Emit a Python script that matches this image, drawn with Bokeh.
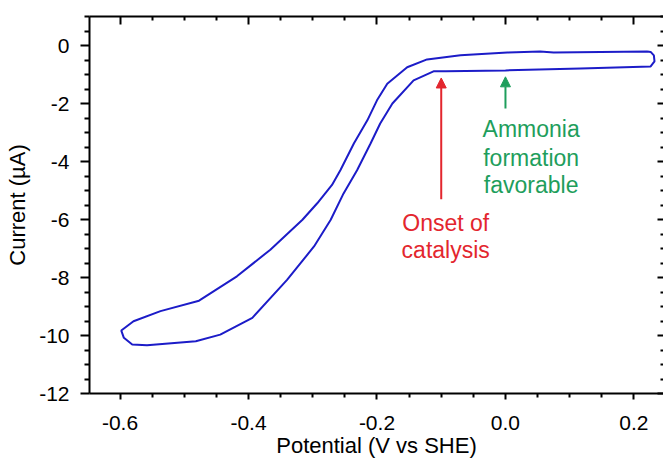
from bokeh.plotting import figure
from bokeh.models import (Range1d, FixedTicker, LinearAxis, PrintfTickFormatter,
                          CustomJSTickFormatter, Arrow, NormalHead, ColumnDataSource)
from bokeh.core.properties import value
from bokeh.embed import file_html
from bokeh.resources import INLINE

# Cyclic voltammogram (closed loop), potential V vs SHE, current in uA
potential = [0.221, 0.148, 0.075, 0.054, 0.003, -0.070, -0.122, -0.153, -0.184,
             -0.200, -0.215, -0.236, -0.257, -0.270, -0.293, -0.316, -0.366,
             -0.418, -0.477, -0.537, -0.579, -0.598, -0.594, -0.581, -0.558,
             -0.482, -0.444, -0.394, -0.340, -0.298, -0.272, -0.252, -0.231,
             -0.210, -0.195, -0.176, -0.143, -0.112, -0.093, 0.000, 0.117,
             0.226, 0.232, 0.231, 0.226, 0.221]
current = [-0.21, -0.22, -0.24, -0.21, -0.24, -0.34, -0.48, -0.75, -1.32,
           -1.89, -2.58, -3.38, -4.30, -4.81, -5.44, -6.01, -7.04,
           -7.96, -8.80, -9.16, -9.51, -9.83, -10.08, -10.31, -10.34,
           -10.20, -9.97, -9.39, -8.08, -6.93, -6.01, -5.10, -4.30,
           -3.38, -2.69, -2.00, -1.20, -0.89, -0.89, -0.86, -0.79,
           -0.72, -0.55, -0.34, -0.22, -0.21]

x_ticks = [-0.6, -0.4, -0.2, 0.0, 0.2]
x_minor = [-0.65, -0.55, -0.5, -0.45, -0.35, -0.3, -0.25, -0.15, -0.1, -0.05,
           0.05, 0.1, 0.15, 0.25]
y_ticks = [0, -2, -4, -6, -8, -10, -12]
y_minor = [0.5, 1.0, -0.5, -1, -1.5, -2.5, -3, -3.5, -4.5, -5, -5.5, -6.5, -7, -7.5,
           -8.5, -9, -9.5, -10.5, -11, -11.5]

# annotations
onset_x = -0.1
onset_arrow_y = [-5.3, -1.12]
onset_lines = ["Onset of", "catalysis"]
onset_text_y = [-6.12, -7.04]
nh3_x = 0.0
nh3_arrow_y = [-2.17, -1.08]
nh3_lines = ["Ammonia", "formation", "favorable"]
nh3_text_x = 0.04
nh3_text_y = [-2.89, -3.88, -4.81]

RED = "#e3262e"
GREEN = "#1e9e5c"
BLUE = "#1c1cc8"
FONT = "Liberation Sans"

p = figure(width=663, height=462, output_backend="svg", toolbar_location=None,
           x_range=Range1d(-0.6475, 0.246), y_range=Range1d(-12, 1),
           x_axis_location=None, y_axis_location=None,
           min_border_left=89, min_border_right=0, min_border_top=16,
           min_border_bottom=69)
p.grid.visible = False
p.outline_line_color = None
p.background_fill_color = "white"
p.border_fill_color = "white"

def make_axis(ticks, minors, fmt, labels, out, tin, mout, mtin, size="21px", standoff=10):
    if labels:
        formatter = PrintfTickFormatter(format=fmt)
    else:
        formatter = CustomJSTickFormatter(code="return ''")
    ax = LinearAxis(ticker=FixedTicker(ticks=ticks, minor_ticks=minors),
                    formatter=formatter)
    ax.axis_line_width = 2
    ax.axis_line_color = "black"
    ax.major_tick_line_width = 2
    ax.minor_tick_line_width = 2
    ax.major_tick_out = out
    ax.major_tick_in = tin
    ax.minor_tick_out = mout
    ax.minor_tick_in = mtin
    ax.major_label_text_font = FONT
    ax.major_label_text_color = "black"
    ax.major_label_text_font_size = size
    ax.axis_label_text_font = FONT
    ax.axis_label_text_font_style = "normal"
    ax.axis_label_text_color = "black"
    ax.major_label_standoff = standoff if labels else 0
    return ax

bottom = make_axis(x_ticks, x_minor, "%.1f", True, 6, 0, 4, 0, standoff=16)
bottom.axis_label = "Potential (V vs SHE)"
bottom.axis_label_text_font_size = "22px"
bottom.axis_label_standoff = 0
p.add_layout(bottom, "below")

left = make_axis(y_ticks, y_minor, "%d", True, 9, 0, 5, 0, standoff=11)
left.axis_label = "Current (µA)"
left.axis_label_text_font_size = "22px"
left.axis_label_standoff = 6
p.add_layout(left, "left")

top = make_axis(x_ticks, x_minor, "%.1f", False, 0, 8, 0, 4)
p.add_layout(top, "above")

right = make_axis(y_ticks, y_minor, "%d", False, 0, 6, 0, 3)
right.axis_line_color = None
p.add_layout(right, "right")

p.line(potential, current, line_color=BLUE, line_width=2)

p.add_layout(Arrow(end=NormalHead(size=10, fill_color=RED, line_color=RED, line_width=1),
                   x_start=onset_x, y_start=onset_arrow_y[0],
                   x_end=onset_x, y_end=onset_arrow_y[1],
                   line_color=RED, line_width=2))
p.add_layout(Arrow(end=NormalHead(size=10, fill_color=GREEN, line_color=GREEN, line_width=1),
                   x_start=nh3_x, y_start=nh3_arrow_y[0],
                   x_end=nh3_x, y_end=nh3_arrow_y[1],
                   line_color=GREEN, line_width=2))

src_on = ColumnDataSource(dict(x=[onset_x + 0.007] * len(onset_lines), y=onset_text_y,
                               t=onset_lines))
p.text(x="x", y="y", text="t", source=src_on, text_color=RED,
       text_font=value(FONT), text_font_size="23px",
       text_align="center", text_baseline="middle")
src_nh = ColumnDataSource(dict(x=[nh3_text_x] * len(nh3_lines), y=nh3_text_y,
                               t=nh3_lines))
p.text(x="x", y="y", text="t", source=src_nh, text_color=GREEN,
       text_font=value(FONT), text_font_size="23px",
       text_align="center", text_baseline="middle")

open("out.html", "w").write(file_html(p, INLINE))
